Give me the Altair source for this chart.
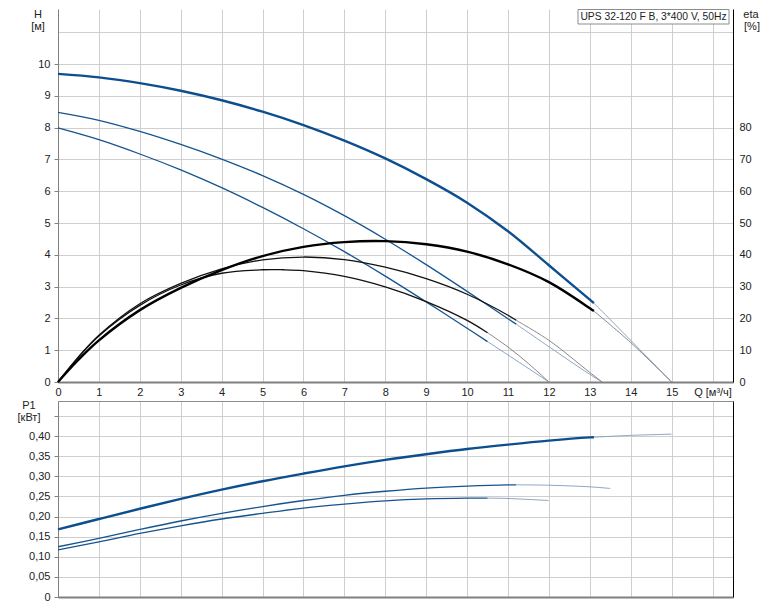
import altair as alt
import pandas as pd

# ---------------- data ----------------
# Head H [m]
Q_H_MAX = [0, 1, 2, 3, 4, 5, 6, 7, 8, 9, 10, 11, 12, 13, 13.1, 14, 15]
H_MAX = [9.69, 9.58, 9.40, 9.16, 8.86, 8.50, 8.08, 7.59, 7.03, 6.38, 5.64, 4.74, 3.67, 2.59, 2.48, 1.31, 0.0]
Q_H_MID = [0, 1, 2, 3, 4, 5, 6, 7, 8, 9, 10, 11, 11.2, 12, 13, 13.3]
H_MID = [8.48, 8.23, 7.88, 7.47, 7.01, 6.49, 5.90, 5.23, 4.49, 3.69, 2.85, 1.99, 1.82, 1.11, 0.24, 0.0]
Q_H_MIN = [0, 1, 2, 3, 4, 5, 6, 7, 8, 9, 10, 10.5, 11, 12]
H_MIN = [7.99, 7.62, 7.17, 6.67, 6.11, 5.49, 4.82, 4.10, 3.33, 2.52, 1.69, 1.27, 0.85, 0.0]

# Efficiency eta [%]
Q_ETA_MAX = [0, 0.5, 1, 2, 3, 4, 5, 6, 7, 8, 9, 10, 11, 12, 13, 13.1, 14, 15]
ETA_MAX = [0, 7.0, 13.1, 22.6, 29.6, 35.2, 39.6, 42.5, 44.0, 44.3, 43.3, 41.0, 37.0, 31.4, 23.2, 22.3, 12.4, 0]
Q_ETA_MID = [0, 0.5, 1, 2, 3, 4, 5, 6, 7, 8, 9, 10, 11, 11.2, 12, 13, 13.3]
ETA_MID = [0, 7.9, 14.7, 24.6, 31.0, 35.6, 38.4, 39.3, 38.5, 36.1, 32.5, 27.6, 21.0, 19.4, 13.1, 3.0, 0]
Q_ETA_MIN = [0, 0.5, 1, 2, 3, 4, 5, 5.5, 6, 7, 8, 9, 10, 10.5, 11, 11.5, 12]
ETA_MIN = [0, 7.8, 14.5, 24.1, 30.5, 34.2, 35.3, 35.3, 35.0, 33.2, 29.9, 25.3, 19.4, 15.5, 11.0, 5.8, 0]

# Power P1 [kW]
Q_P_MAX = [0, 1, 2, 3, 4, 5, 6, 7, 8, 9, 10, 11, 12, 13, 13.1, 14, 15]
P_MAX = [0.168, 0.194, 0.2195, 0.244, 0.267, 0.288, 0.307, 0.325, 0.341, 0.355, 0.368, 0.379, 0.389, 0.397, 0.3975, 0.402, 0.405]
Q_P_MID = [0, 1, 2, 3, 4, 5, 6, 7, 8, 9, 10, 11, 11.2, 12, 13, 13.5]
P_MID = [0.125, 0.146, 0.168, 0.189, 0.208, 0.225, 0.240, 0.253, 0.263, 0.271, 0.276, 0.279, 0.279, 0.278, 0.274, 0.270]
Q_P_MIN = [0, 1, 2, 3, 4, 5, 6, 7, 8, 9, 10, 10.5, 11, 12]
P_MIN = [0.117, 0.137, 0.158, 0.177, 0.194, 0.208, 0.221, 0.231, 0.239, 0.244, 0.246, 0.246, 0.245, 0.240]

# end of the working range of each speed curve
SPLIT = {"max": 13.1, "mid": 11.2, "min": 10.5}

X_TICKS = list(range(0, 17))
H_TICKS = list(range(0, 11))
ETA_TICKS = list(range(0, 120, 10))
P_TICKS = [0, 0.05, 0.10, 0.15, 0.20, 0.25, 0.30, 0.35, 0.40, 0.45]

TITLE = "UPS 32-120 F B, 3*400 V, 50Hz"

# ---------------- build tables ----------------
def build(kind, series):
    rows = []
    for curve, qs, vals in series:
        s = SPLIT[curve]
        for q, v in zip(qs, vals):
            if q <= s:
                st = "thick" if curve == "max" else "thin"
                rows.append(dict(kind=kind, curve=curve, Q=q, v=v, style=st, sid=f"{kind}-{curve}-w"))
            if q >= s:
                rows.append(dict(kind=kind, curve=curve, Q=q, v=v, style="ext", sid=f"{kind}-{curve}-e"))
    return pd.DataFrame(rows)

h_df = build("H", [("max", Q_H_MAX, H_MAX), ("mid", Q_H_MID, H_MID), ("min", Q_H_MIN, H_MIN)])
e_df = build("eta", [("max", Q_ETA_MAX, ETA_MAX), ("mid", Q_ETA_MID, ETA_MID), ("min", Q_ETA_MIN, ETA_MIN)])
p_df = build("P", [("max", Q_P_MAX, P_MAX), ("mid", Q_P_MID, P_MID), ("min", Q_P_MIN, P_MIN)])

BLUE = {"thick": ("#0d4f8e", 2.4), "thin": ("#16548f", 1.3), "ext": ("#7f9bc0", 0.9)}
BLACK = {"thick": ("#000000", 2.4), "thin": ("#111111", 1.3), "ext": ("#7a7a7a", 0.9)}

W, H_TOP, H_BOT = 675, 373, 196
FONT = "Liberation Sans"
GRID = "#cfcfcf"
AX = "#808080"

xscale = alt.Scale(domain=[0, 16.5], nice=False, zero=False)
hscale = alt.Scale(domain=[0, H_TOP / 31.8], nice=False, zero=False)
escale = alt.Scale(domain=[0, H_TOP / 3.18], nice=False, zero=False)
pscale = alt.Scale(domain=[0, 0.4875], nice=False, zero=False)

x_axis_top = alt.Axis(values=X_TICKS, grid=True, gridColor=GRID, gridWidth=1, ticks=False,
                      domainColor=AX, domainWidth=2, labelPadding=4, labelFlush=False,
                      labelOverlap=False, title=None,
                      labelExpr="datum.value == 16 ? 'Q [м³/ч]' : datum.label")
h_axis = alt.Axis(values=H_TICKS, grid=False, tickSize=4, tickColor=AX, domainColor=AX,
                  labelPadding=4, title=None)
e_axis = alt.Axis(orient="right", values=ETA_TICKS, grid=True, gridColor=GRID, gridWidth=1,
                  ticks=False, domainColor="#000000", labelPadding=6, title=None,
                  labelExpr="datum.value <= 80 ? datum.label : ''")
x_axis_bot = alt.Axis(values=X_TICKS, grid=True, gridColor=GRID, gridWidth=1, ticks=False,
                      labels=False, domainColor=AX, domainWidth=2, title=None)
p_axis = alt.Axis(values=P_TICKS, grid=True, gridColor=GRID, gridWidth=1, tickSize=4,
                  tickColor=AX, domainColor=AX, labelPadding=4, title=None,
                  labelExpr="datum.value == 0 ? '0' : (datum.value > 0.42 ? '' : replace(format(datum.value, '.2f'), '.', ','))")
x_axis_topborder = alt.Axis(orient="top", labels=False, ticks=False, grid=False,
                            domainColor="#8c8c8c", domainWidth=1, title=None)
p_axis_right = alt.Axis(orient="right", labels=False, ticks=False, grid=False,
                        domainColor="#000000", title=None)


def lines(df, palette, yscale, yaxis, xaxis):
    layers = []
    for st in ["ext", "thin", "thick"]:
        color, width = palette[st]
        layers.append(
            alt.Chart(df[df["style"] == st]).mark_line(
                interpolate="catmull-rom", color=color, strokeWidth=width, strokeCap="butt"
            ).encode(
                x=alt.X("Q:Q", scale=xscale, axis=xaxis),
                y=alt.Y("v:Q", scale=yscale, axis=yaxis),
                detail="sid:N",
            )
        )
    return alt.layer(*layers)


def label(text, x, y, align="center", size=11):
    return alt.Chart(pd.DataFrame({"t": [text]})).mark_text(
        align=align, baseline="middle", fontSize=size, font=FONT, color="#222222"
    ).encode(x=alt.value(x), y=alt.value(y), text="t:N")


def phantom():
    return alt.Chart(pd.DataFrame({"a": [0]})).mark_rule(color="white", strokeWidth=1).encode(
        x=alt.value(-49), y=alt.value(0), y2=alt.value(2)
    )


box = alt.Chart(pd.DataFrame({"a": [0]})).mark_rect(
    fill="white", stroke="#8c8c8c", strokeWidth=1
).encode(x=alt.value(520), x2=alt.value(671), y=alt.value(0.5), y2=alt.value(15))

top = alt.layer(
    lines(h_df, BLUE, hscale, h_axis, x_axis_top),
    lines(e_df, BLACK, escale, e_axis, x_axis_top),
    box,
    label(TITLE, 595.5, 8, size=10.3),
    label("H", -20, 6),
    label("[м]", -20, 18),
    label("eta", 693, 6),
    label("[%]", 694, 18),
    phantom(),
).resolve_scale(y="independent").properties(width=W, height=H_TOP)

helper = alt.Chart(p_df).mark_point(opacity=0).encode(
    x=alt.X("Q:Q", scale=xscale, axis=x_axis_topborder),
    y=alt.Y("v:Q", scale=pscale, axis=p_axis_right),
)

bottom = alt.layer(
    lines(p_df, BLUE, pscale, p_axis, x_axis_bot),
    helper,
    label("P1", -29, 5),
    label("[кВт]", -29, 17),
    phantom(),
).resolve_scale(x="independent", y="independent").properties(width=W, height=H_BOT)

chart = alt.vconcat(
    top, bottom, spacing=19, bounds="flush",
    padding={"left": 0, "right": 4, "top": 0, "bottom": 0},
    background="white",
).configure_view(stroke=None).configure_axis(
    labelFont=FONT, labelFontSize=11, labelColor="#222222"
).configure_text(font=FONT)

chart.save("out.html", embed_options={"renderer": "svg", "actions": False})
